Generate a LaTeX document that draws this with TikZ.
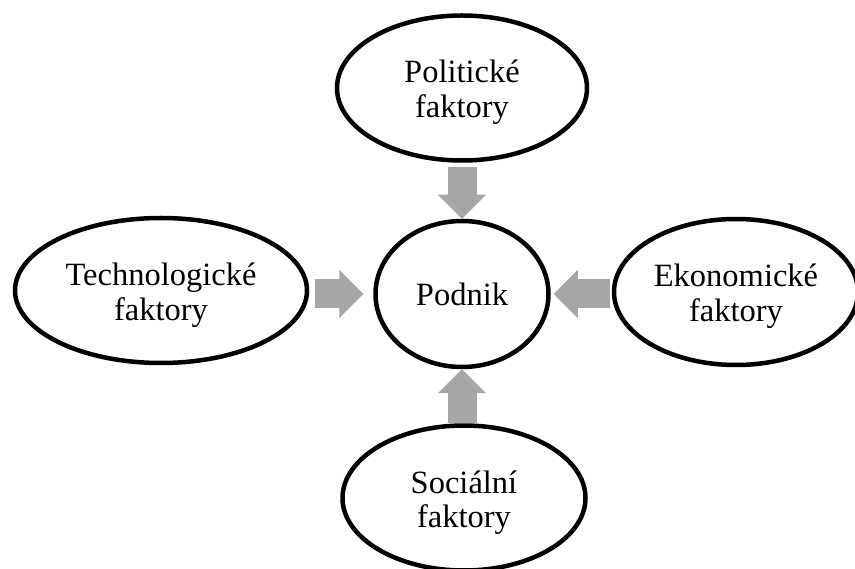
\documentclass[tikz,border=0pt]{standalone}
\usepackage{fontspec}
\setmainfont{Liberation Serif}
\usetikzlibrary{shapes.geometric,arrows.meta}
\definecolor{arrowgray}{HTML}{A6A6A6}

\begin{document}
\begin{tikzpicture}[x=1pt, y=-1pt,
	factor/.style={ellipse, draw, line width=4.5pt, inner sep=0pt, align=center,
		font=\fontsize{32.5}{35}\selectfont},
	twoline/.style={text height=67pt, text depth=7pt},
	blockarrow/.style={draw=arrowgray, line width=29pt,
		-{Triangle[length=24pt, width=48pt, line width=1pt]}}]

	\useasboundingbox (0,0) rectangle (855,569);

	% === NODES === (((
	\node[factor, minimum width=173pt, minimum height=146pt] (podnik) at (462,294) {Podnik};

	\node[factor, twoline, minimum width=250pt, minimum height=145pt] (pol) at (462,88) {Politické\\faktory};
	\node[factor, twoline, minimum width=292pt, minimum height=145pt] (tech) at (161,290.5) {Technologické\\faktory};
	\node[factor, twoline, minimum width=244pt, minimum height=146pt] (eko) at (736,292) {Ekonomické\\faktory};
	\node[factor, twoline, minimum width=243pt, minimum height=145pt] (soc) at (464,498) {Sociální\\faktory};
	% )))

	% === ARROWS === (((
	\draw[blockarrow, shorten <=4pt] (pol.south) -- (podnik.north);
	\draw[blockarrow, shorten <=6pt, shorten >=10pt] (tech.east |- podnik.west) -- (podnik.west);
	\draw[blockarrow, shorten <=2pt, shorten >=3pt] (eko.west |- podnik.east) -- (podnik.east);
	\draw[blockarrow] (podnik.south |- soc.north) -- (podnik.south);
	% )))

\end{tikzpicture}
\end{document}
